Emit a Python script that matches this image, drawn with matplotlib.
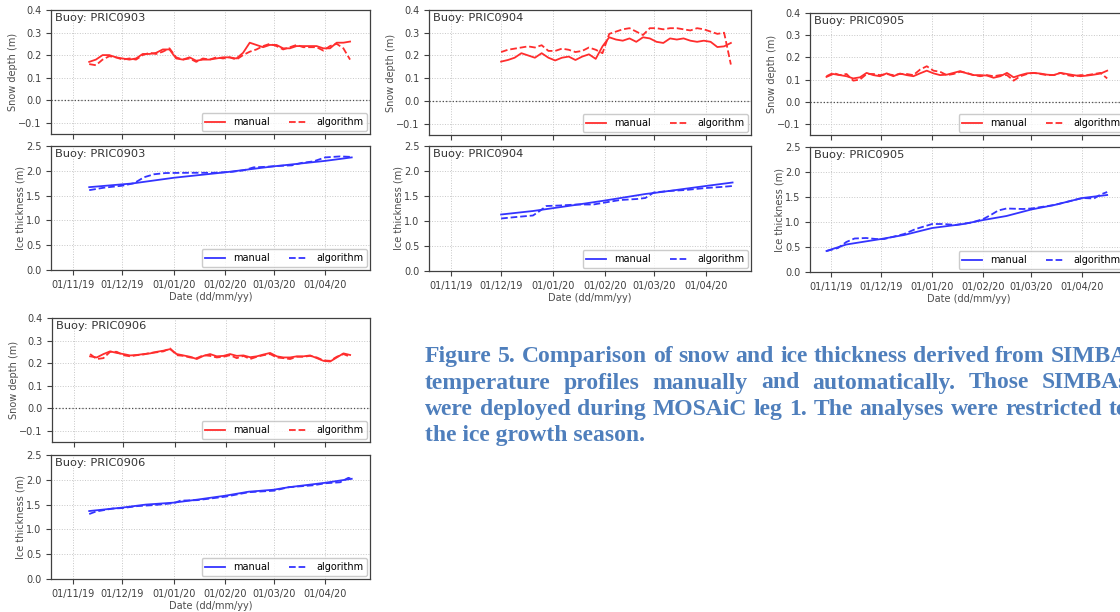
import matplotlib

matplotlib.use("Agg")
import matplotlib.dates as mdates  # noqa: E402
import matplotlib.pyplot as plt  # noqa: E402
import pandas as pd  # noqa: E402
from matplotlib.transforms import IdentityTransform  # noqa: E402

W, H = 1120, 612

# ----- snow depth (m), regular sampling between first and last pick -----
SNOW_0903_SPAN = ("2019-11-11", "2020-04-16")
snow_0903_manual = [0.17, 0.18, 0.20, 0.20, 0.19, 0.185, 0.18, 0.185, 0.205, 0.205,
                    0.21, 0.225, 0.225, 0.185, 0.18, 0.19, 0.175, 0.18, 0.18, 0.185,
                    0.19, 0.19, 0.185, 0.21, 0.255, 0.245, 0.235, 0.245, 0.245, 0.23,
                    0.23, 0.24, 0.24, 0.24, 0.24, 0.23, 0.23, 0.255, 0.255, 0.26]
snow_0903_algo = [0.16, 0.155, 0.18, 0.195, 0.19, 0.18, 0.185, 0.18, 0.20, 0.21,
                  0.205, 0.215, 0.23, 0.19, 0.18, 0.185, 0.17, 0.185, 0.18, 0.19,
                  0.185, 0.19, 0.18, 0.20, 0.215, 0.225, 0.24, 0.25, 0.24, 0.225,
                  0.235, 0.245, 0.235, 0.235, 0.235, 0.22, 0.24, 0.25, 0.23, 0.18]

SNOW_0904_SPAN = ("2019-12-01", "2020-04-16")
snow_0904_manual = [0.173, 0.18, 0.19, 0.21, 0.20, 0.19, 0.21, 0.19, 0.178, 0.19,
                    0.195, 0.18, 0.195, 0.205, 0.185, 0.24, 0.28, 0.27, 0.265, 0.275,
                    0.26, 0.28, 0.275, 0.26, 0.255, 0.275, 0.27, 0.275, 0.265, 0.26,
                    0.265, 0.26, 0.237, 0.24, 0.255]
snow_0904_algo = [0.215, 0.225, 0.23, 0.235, 0.24, 0.235, 0.245, 0.22, 0.22, 0.23,
                  0.225, 0.215, 0.22, 0.235, 0.225, 0.21, 0.295, 0.305, 0.315, 0.32,
                  0.305, 0.29, 0.32, 0.32, 0.315, 0.32, 0.32, 0.315, 0.31, 0.32,
                  0.315, 0.305, 0.295, 0.30, 0.16]

SNOW_0905_SPAN = ("2019-10-29", "2020-04-16")
snow_0905_manual = [0.112, 0.125, 0.12, 0.115, 0.105, 0.11, 0.13, 0.12, 0.115, 0.128,
                    0.115, 0.127, 0.12, 0.115, 0.128, 0.14, 0.128, 0.12, 0.122, 0.13,
                    0.138, 0.128, 0.12, 0.12, 0.118, 0.108, 0.115, 0.13, 0.11, 0.12,
                    0.128, 0.13, 0.127, 0.122, 0.12, 0.13, 0.125, 0.12, 0.115, 0.118,
                    0.122, 0.127, 0.14]
snow_0905_algo = [0.115, 0.13, 0.12, 0.125, 0.095, 0.10, 0.125, 0.125, 0.12, 0.125,
                  0.12, 0.125, 0.125, 0.12, 0.145, 0.16, 0.14, 0.135, 0.12, 0.125,
                  0.135, 0.13, 0.12, 0.115, 0.12, 0.115, 0.12, 0.12, 0.095, 0.115,
                  0.125, 0.13, 0.125, 0.12, 0.12, 0.13, 0.12, 0.115, 0.12, 0.12,
                  0.125, 0.13, 0.105]

SNOW_0906_SPAN = ("2019-11-11", "2020-04-16")
snow_0906_manual = [0.23, 0.225, 0.24, 0.252, 0.245, 0.24, 0.234, 0.236, 0.24, 0.243,
                    0.25, 0.255, 0.262, 0.24, 0.234, 0.228, 0.218, 0.232, 0.24, 0.23,
                    0.232, 0.24, 0.232, 0.234, 0.226, 0.23, 0.238, 0.245, 0.23, 0.225,
                    0.225, 0.23, 0.23, 0.234, 0.222, 0.21, 0.207, 0.225, 0.243, 0.236]
snow_0906_algo = [0.24, 0.218, 0.222, 0.25, 0.25, 0.235, 0.23, 0.235, 0.238, 0.245,
                  0.248, 0.252, 0.265, 0.235, 0.232, 0.225, 0.222, 0.235, 0.232, 0.225,
                  0.228, 0.235, 0.222, 0.232, 0.218, 0.228, 0.235, 0.24, 0.225, 0.222,
                  0.218, 0.228, 0.228, 0.232, 0.225, 0.212, 0.21, 0.228, 0.24, 0.228]

# ----- ice thickness (m) at pick dates -----
ice_0903_manual_dates = ["2019-11-11", "2019-12-07", "2020-01-01", "2020-02-01",
                         "2020-03-01", "2020-04-01", "2020-04-17"]
ice_0903_manual = [1.67, 1.745, 1.86, 1.97, 2.09, 2.20, 2.27]
ice_0903_algo_dates = ["2019-11-11", "2019-11-20", "2019-12-01", "2019-12-08", "2019-12-14",
                       "2019-12-20", "2019-12-27", "2020-01-10", "2020-01-25", "2020-02-05",
                       "2020-02-12", "2020-02-18", "2020-02-25", "2020-03-05", "2020-03-12",
                       "2020-03-18", "2020-03-25", "2020-04-01", "2020-04-10", "2020-04-17"]
ice_0903_algo = [1.61, 1.66, 1.70, 1.75, 1.87, 1.93, 1.955, 1.96, 1.96, 1.98,
                 2.01, 2.07, 2.08, 2.10, 2.11, 2.16, 2.19, 2.27, 2.29, 2.28]

ice_0904_manual_dates = ["2019-12-01", "2019-12-20", "2020-01-10", "2020-02-01",
                         "2020-02-25", "2020-03-01", "2020-04-01", "2020-04-17"]
ice_0904_manual = [1.13, 1.20, 1.30, 1.41, 1.54, 1.56, 1.70, 1.77]
ice_0904_algo_dates = ["2019-12-01", "2019-12-10", "2019-12-20", "2019-12-24", "2019-12-28",
                       "2020-01-05", "2020-01-15", "2020-01-25", "2020-02-01", "2020-02-10",
                       "2020-02-20", "2020-02-25", "2020-03-01", "2020-03-10", "2020-03-20",
                       "2020-04-01", "2020-04-10", "2020-04-17"]
ice_0904_algo = [1.05, 1.08, 1.11, 1.20, 1.30, 1.31, 1.33, 1.33, 1.37, 1.42,
                 1.44, 1.46, 1.57, 1.60, 1.62, 1.66, 1.68, 1.70]

ice_0905_manual_dates = ["2019-10-29", "2019-11-10", "2019-12-01", "2019-12-15", "2020-01-01",
                         "2020-01-20", "2020-02-01", "2020-02-15", "2020-03-01", "2020-03-15",
                         "2020-04-01", "2020-04-16"]
ice_0905_manual = [0.42, 0.55, 0.66, 0.74, 0.88, 0.96, 1.04, 1.12, 1.25, 1.34, 1.48, 1.54]
ice_0905_algo_dates = ["2019-10-29", "2019-11-05", "2019-11-10", "2019-11-15", "2019-11-22",
                       "2019-11-28", "2019-12-03", "2019-12-15", "2019-12-22", "2020-01-01",
                       "2020-01-08", "2020-01-15", "2020-01-25", "2020-02-01", "2020-02-06",
                       "2020-02-10", "2020-02-15", "2020-02-25", "2020-03-01", "2020-03-15",
                       "2020-04-01", "2020-04-08", "2020-04-12", "2020-04-16"]
ice_0905_algo = [0.42, 0.48, 0.60, 0.67, 0.68, 0.66, 0.66, 0.76, 0.86, 0.96,
                 0.96, 0.94, 0.99, 1.06, 1.15, 1.23, 1.27, 1.26, 1.27, 1.34,
                 1.48, 1.47, 1.55, 1.60]

ice_0906_manual_dates = ["2019-11-11", "2019-12-01", "2019-12-15", "2020-01-01", "2020-01-15",
                         "2020-02-01", "2020-02-15", "2020-03-01", "2020-03-10", "2020-04-01",
                         "2020-04-17"]
ice_0906_manual = [1.37, 1.44, 1.50, 1.54, 1.60, 1.68, 1.76, 1.80, 1.85, 1.94, 2.02]
ice_0906_algo_dates = ["2019-11-11", "2019-11-15", "2019-11-25", "2019-12-01", "2019-12-10",
                       "2019-12-20", "2020-01-01", "2020-01-05", "2020-01-15", "2020-02-01",
                       "2020-02-15", "2020-03-01", "2020-03-10", "2020-03-25", "2020-04-01",
                       "2020-04-10", "2020-04-15", "2020-04-17"]
ice_0906_algo = [1.31, 1.36, 1.42, 1.43, 1.47, 1.49, 1.53, 1.58, 1.59, 1.66,
                 1.75, 1.78, 1.85, 1.89, 1.93, 1.95, 2.04, 2.02]

CAPTION = [
    "Figure 5. Comparison of snow and ice thickness derived from SIMBA",
    "temperature profiles manually and automatically. Those SIMBAs",
    "were deployed during MOSAiC leg 1. The analyses were restricted to",
    "the ice growth season.",
]

RED = "#ff2d2d"
BLUE = "#3434ff"
XLIM = (pd.Timestamp("2019-10-19"), pd.Timestamp("2020-04-28"))
FS = 7


def px_axes(fig, left, top, right, bottom):
    return fig.add_axes([left / W, 1 - bottom / H, (right - left) / W, (bottom - top) / H])


def style_axes(ax, buoy, ylabel):
    ax.set_xlim(*XLIM)
    ax.xaxis.set_major_locator(mdates.MonthLocator(bymonthday=1))
    ax.xaxis.set_major_formatter(mdates.DateFormatter("%d/%m/%y"))
    ax.grid(True, ls=":", color="0.78", lw=0.7)
    ax.tick_params(labelsize=FS, length=3.5, width=0.8, colors="0.25")
    for s in ax.spines.values():
        s.set_color("0.25")
        s.set_linewidth(0.9)
    ax.set_ylabel(ylabel, fontsize=FS, color="0.3", labelpad=0)
    ax.text(0.012, 0.975, f"Buoy: {buoy}", transform=ax.transAxes, ha="left", va="top",
            fontsize=8.2, color="0.2")
    ax.legend(loc="lower right", ncol=2, fontsize=FS, borderpad=0.4, borderaxespad=0.3,
              edgecolor="0.75")


def snow_panel(fig, box, buoy, span, manual, algo):
    ax = px_axes(fig, *box)
    days = pd.date_range(span[0], span[1], periods=len(manual))
    ax.plot(days, manual, color=RED, lw=1.3, label="manual")
    ax.plot(days, algo, color=RED, lw=1.3, ls="--", label="algorithm")
    ax.axhline(0, color="0.3", ls=":", lw=0.9)
    ax.set_ylim(-0.15, 0.4)
    ax.set_yticks([-0.1, 0.0, 0.1, 0.2, 0.3, 0.4])
    style_axes(ax, buoy, "Snow depth (m)")
    ax.tick_params(labelbottom=False)
    return ax


def ice_panel(fig, box, buoy, man_dates, manual, algo_dates, algo):
    ax = px_axes(fig, *box)
    ax.plot(pd.to_datetime(man_dates), manual, color=BLUE, lw=1.3, label="manual")
    ax.plot(pd.to_datetime(algo_dates), algo, color=BLUE, lw=1.3, ls="--", label="algorithm")
    ax.set_ylim(0, 2.5)
    style_axes(ax, buoy, "Ice thickness (m)")
    ax.set_xlabel("Date (dd/mm/yy)", fontsize=FS, color="0.3", labelpad=1.5)
    return ax


def justified(fig, renderer, words, x0, x1, y, **kw):
    texts = [fig.text(0, y, w, transform=IdentityTransform(), va="baseline", **kw)
             for w in words]
    widths = [t.get_window_extent(renderer).width for t in texts]
    gap = (x1 - x0 - sum(widths)) / max(len(words) - 1, 1)
    x = x0
    for t, w in zip(texts, widths):
        t.set_x(x)
        x += w + gap


fig = plt.figure(figsize=(W / 100, H / 100), dpi=100)

snow_panel(fig, (51, 10, 370, 134), "PRIC0903", SNOW_0903_SPAN, snow_0903_manual, snow_0903_algo)
ice_panel(fig, (51, 146, 370, 270), "PRIC0903", ice_0903_manual_dates, ice_0903_manual,
          ice_0903_algo_dates, ice_0903_algo)
snow_panel(fig, (429, 10, 751, 135), "PRIC0904", SNOW_0904_SPAN, snow_0904_manual, snow_0904_algo)
ice_panel(fig, (429, 146, 751, 271), "PRIC0904", ice_0904_manual_dates, ice_0904_manual,
          ice_0904_algo_dates, ice_0904_algo)
snow_panel(fig, (810, 13, 1127, 135), "PRIC0905", SNOW_0905_SPAN, snow_0905_manual, snow_0905_algo)
ice_panel(fig, (810, 147, 1127, 272), "PRIC0905", ice_0905_manual_dates, ice_0905_manual,
          ice_0905_algo_dates, ice_0905_algo)
snow_panel(fig, (52, 318, 370, 442), "PRIC0906", SNOW_0906_SPAN, snow_0906_manual, snow_0906_algo)
ice_panel(fig, (51, 455, 370, 579), "PRIC0906", ice_0906_manual_dates, ice_0906_manual,
          ice_0906_algo_dates, ice_0906_algo)

# caption block: first line sets the size, lines 1-3 justified to the column edge
renderer = fig.canvas.get_renderer()
cap_kw = dict(family="Liberation Serif", fontweight="bold", color="#4f7fbc")
probe = fig.text(0, 0, CAPTION[0], transform=IdentityTransform(), fontsize=15, **cap_kw)
cap_size = 15 * 703 / probe.get_window_extent(renderer).width
probe.remove()
cap_kw["fontsize"] = cap_size
col_left, col_right = 425, 1128
for line, y in zip(CAPTION[:3], [H - 362, H - 388.5, H - 415]):
    justified(fig, renderer, line.split(), col_left, col_right, y, **cap_kw)
fig.text(col_left, H - 441.5, CAPTION[3], transform=IdentityTransform(), va="baseline", **cap_kw)

fig.savefig("out.png", dpi=100, facecolor="white")
